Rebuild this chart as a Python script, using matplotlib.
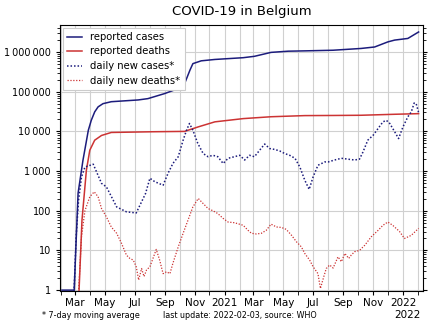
import matplotlib
matplotlib.use("Agg")
import matplotlib.pyplot as plt
import matplotlib.dates as mdates
import matplotlib.ticker as mticker
import numpy as np
import pandas as pd

# ---- data ----
cases_dates = ["2020-02-03", "2020-02-28", "2020-03-07", "2020-03-17", "2020-03-28", "2020-04-03",
               "2020-04-10", "2020-04-17", "2020-04-27", "2020-05-14", "2020-07-08", "2020-07-28",
               "2020-08-31", "2020-09-28", "2020-10-11", "2020-10-22", "2020-10-28", "2020-11-14",
               "2020-12-12", "2021-02-08", "2021-03-03", "2021-04-06", "2021-05-11", "2021-06-14",
               "2021-08-11", "2021-10-07", "2021-11-04", "2021-12-01", "2021-12-15", "2022-01-11",
               "2022-02-02"]
cases_total = [1, 1, 277, 1870, 10700, 19000, 31000, 41500, 50000, 56000, 62000, 67000,
               89600, 120000, 160000, 350000, 510000, 600000, 650000, 720000, 780000, 980000,
               1050000, 1070000, 1110000, 1230000, 1340000, 1800000, 2000000, 2200000, 3200000]

deaths_dates = ["2020-03-09", "2020-03-15", "2020-03-24", "2020-03-31", "2020-04-10", "2020-04-24",
                "2020-05-14", "2020-08-08", "2020-10-11", "2020-11-08", "2020-12-12", "2021-02-08",
                "2021-04-06", "2021-06-14", "2021-08-11", "2021-10-07", "2021-12-15", "2022-02-02"]
deaths_total = [1, 58, 1050, 3360, 6000, 7900, 9400, 9800, 10000, 13000, 17400, 21000,
                23400, 25000, 25200, 25500, 27000, 28000]

new_cases_dates = ["2020-02-27", "2020-03-03", "2020-03-08", "2020-03-14", "2020-03-21", "2020-04-07",
                   "2020-04-24", "2020-05-04", "2020-05-25", "2020-06-14", "2020-07-04", "2020-07-23",
                   "2020-08-01", "2020-08-11", "2020-08-28", "2020-09-07", "2020-09-17", "2020-09-28",
                   "2020-10-08", "2020-10-15", "2020-10-21", "2020-10-28", "2020-11-07", "2020-11-18",
                   "2020-11-28", "2020-12-08", "2020-12-18", "2020-12-29", "2021-01-08", "2021-01-21",
                   "2021-02-01", "2021-02-11", "2021-02-21", "2021-03-03", "2021-03-14", "2021-03-24",
                   "2021-04-03", "2021-04-14", "2021-04-24", "2021-05-04", "2021-05-14", "2021-05-25",
                   "2021-06-04", "2021-06-14", "2021-06-23", "2021-07-01", "2021-07-11", "2021-07-25",
                   "2021-08-01", "2021-08-14", "2021-08-28", "2021-09-10", "2021-09-24", "2021-10-04",
                   "2021-10-11", "2021-10-21", "2021-11-01", "2021-11-11", "2021-11-21", "2021-11-28",
                   "2021-12-05", "2021-12-15", "2021-12-23", "2022-01-01", "2022-01-11", "2022-01-18",
                   "2022-01-24", "2022-01-28", "2022-02-02"]
new_cases = [0.5, 22, 185, 710, 1260, 1490, 490, 400, 125, 94, 88, 270,
             660, 540, 440, 870, 1550, 2300, 6000, 10700, 15800, 10700, 5000, 2770,
             2300, 2500, 2300, 1550, 2100, 2300, 2500, 1900, 2500, 2300, 3400, 4800,
             3700, 3500, 3200, 2770, 2500, 2100, 1260, 590, 345, 710, 1400, 1700,
             1700, 1900, 2100, 2000, 1900, 2000, 3000, 6000, 8000, 11800, 17400, 19000,
             15800, 9800, 6600, 13000, 23300, 31000, 52000, 50000, 30000]

new_deaths_dates = ["2020-03-08", "2020-03-14", "2020-03-21", "2020-03-31", "2020-04-09", "2020-04-17",
                    "2020-04-24", "2020-05-04", "2020-05-14", "2020-05-25", "2020-06-04", "2020-06-14",
                    "2020-06-21", "2020-06-28", "2020-07-04", "2020-07-09", "2020-07-15", "2020-07-20",
                    "2020-07-25", "2020-08-01", "2020-08-06", "2020-08-14", "2020-08-21", "2020-08-28",
                    "2020-09-04", "2020-09-11", "2020-09-17", "2020-09-28", "2020-10-08", "2020-10-18",
                    "2020-10-28", "2020-11-08", "2020-11-18", "2020-11-28", "2020-12-08", "2020-12-18",
                    "2020-12-29", "2021-01-08", "2021-01-21", "2021-02-08", "2021-02-18", "2021-02-25",
                    "2021-03-07", "2021-03-17", "2021-03-27", "2021-04-06", "2021-04-17", "2021-04-27",
                    "2021-05-07", "2021-05-18", "2021-05-28", "2021-06-07", "2021-06-14", "2021-06-24",
                    "2021-07-01", "2021-07-11", "2021-07-16", "2021-07-23", "2021-07-28", "2021-08-04",
                    "2021-08-11", "2021-08-21", "2021-08-28", "2021-09-04", "2021-09-12", "2021-09-17",
                    "2021-09-24", "2021-10-04", "2021-10-15", "2021-10-28", "2021-11-11", "2021-11-21",
                    "2021-12-01", "2021-12-11", "2021-12-25", "2022-01-04", "2022-01-18", "2022-02-02"]
new_deaths = [0.9, 22, 100, 225, 300, 225,
              114, 70, 39, 27, 15, 7.6,
              6.3, 5.7, 3.9, 1.8, 3.5, 2.2,
              3.2, 3.9, 5.7, 10.6, 5.7, 2.6,
              2.9, 2.6, 4.7, 12.3, 27, 58,
              125, 204, 152, 114, 100, 85,
              64, 52, 50, 43, 32, 27,
              26, 27, 32, 46, 39, 38,
              34, 24, 16.5, 12.3, 8.4, 5.7,
              3.9, 2.6, 1.1, 2.2, 3.5, 4.3,
              3.6, 6.9, 5.2, 8.4, 6.3, 7.6,
              9.3, 10, 13.6, 22, 32, 43,
              52, 43, 30, 20, 24, 36]

y_ticks = [1, 10, 100, 1000, 10000, 100000, 1000000]
x_labels = ["Mar", "May", "Jul", "Sep", "Nov", "2021", "Mar", "May", "Jul", "Sep", "Nov", "2022"]

NAVY = "#1c1c7c"
RED = "#cc3333"

fig = plt.figure(figsize=(4.4, 3.3), dpi=100)
ax = fig.add_axes([60/440, 1 - 291/330, 363/440, 266/330])

ax.plot(pd.to_datetime(cases_dates), cases_total, color=NAVY, lw=1.1, label="reported cases")
ax.plot(pd.to_datetime(deaths_dates), deaths_total, color=RED, lw=1.1, label="reported deaths")
ax.plot(pd.to_datetime(new_cases_dates), new_cases, color=NAVY, lw=1.1,
        linestyle=(0, (1, 1.3)), label="daily new cases*")
ax.plot(pd.to_datetime(new_deaths_dates), new_deaths, color=RED, lw=0.9,
        linestyle=(0, (1, 1.3)), label="daily new deaths*")

ax.set_yscale("log")
ax.set_ylim(0.95, 4.8e6)
ax.set_xlim(pd.Timestamp("2020-01-30"), pd.Timestamp("2022-02-11"))

ax.yaxis.set_major_locator(mticker.FixedLocator(y_ticks))
ax.yaxis.set_major_formatter(mticker.FuncFormatter(lambda v, p: f"{int(round(v)):,}".replace(",", "\u2009")))
ax.yaxis.set_minor_locator(mticker.LogLocator(base=10, subs=np.arange(2, 10)))
ax.yaxis.set_minor_formatter(mticker.NullFormatter())
ax.tick_params(axis="y", which="both", right=True, direction="out", labelsize=7)
ax.tick_params(axis="y", which="major", length=3)
ax.tick_params(axis="y", which="minor", length=2)

months = pd.date_range("2020-02-01", "2022-02-01", freq="MS")
label_dates = pd.date_range("2020-03-01", "2022-01-01", freq="2MS")
ax.xaxis.set_major_locator(mticker.FixedLocator(mdates.date2num(label_dates)))
ax.xaxis.set_major_formatter(mticker.FixedFormatter(x_labels))
ax.xaxis.set_minor_locator(mticker.FixedLocator(mdates.date2num(months)))
ax.tick_params(axis="x", which="both", direction="out", length=3, labelsize=7.5, pad=2)

ax.grid(True, which="major", axis="y", color="#d0d0d0", lw=0.8)
ax.grid(True, which="both", axis="x", color="#d0d0d0", lw=0.8)
ax.set_axisbelow(True)
for s in ax.spines.values():
    s.set_linewidth(0.8)

ax.set_title("COVID-19 in Belgium", fontsize=9.5, pad=7)

leg = ax.legend(loc="upper left", fontsize=7.2, handlelength=1.5, handletextpad=0.8,
                borderpad=0.45, labelspacing=0.45, fancybox=False, framealpha=1,
                borderaxespad=0.25)
leg.get_frame().set_edgecolor("#cccccc")
leg.get_frame().set_linewidth(0.8)

fig.text(42/440, 1 - 315/330, "* 7-day moving average", fontsize=5.8, va="center", ha="left")
fig.text(163/440, 1 - 315/330, "last update: 2022-02-03, source: WHO", fontsize=5.8, va="center", ha="left")
fig.text(421/440, 1 - 315/330, "2022", fontsize=7.5, va="center", ha="right")

fig.savefig("out.png", dpi=100)
